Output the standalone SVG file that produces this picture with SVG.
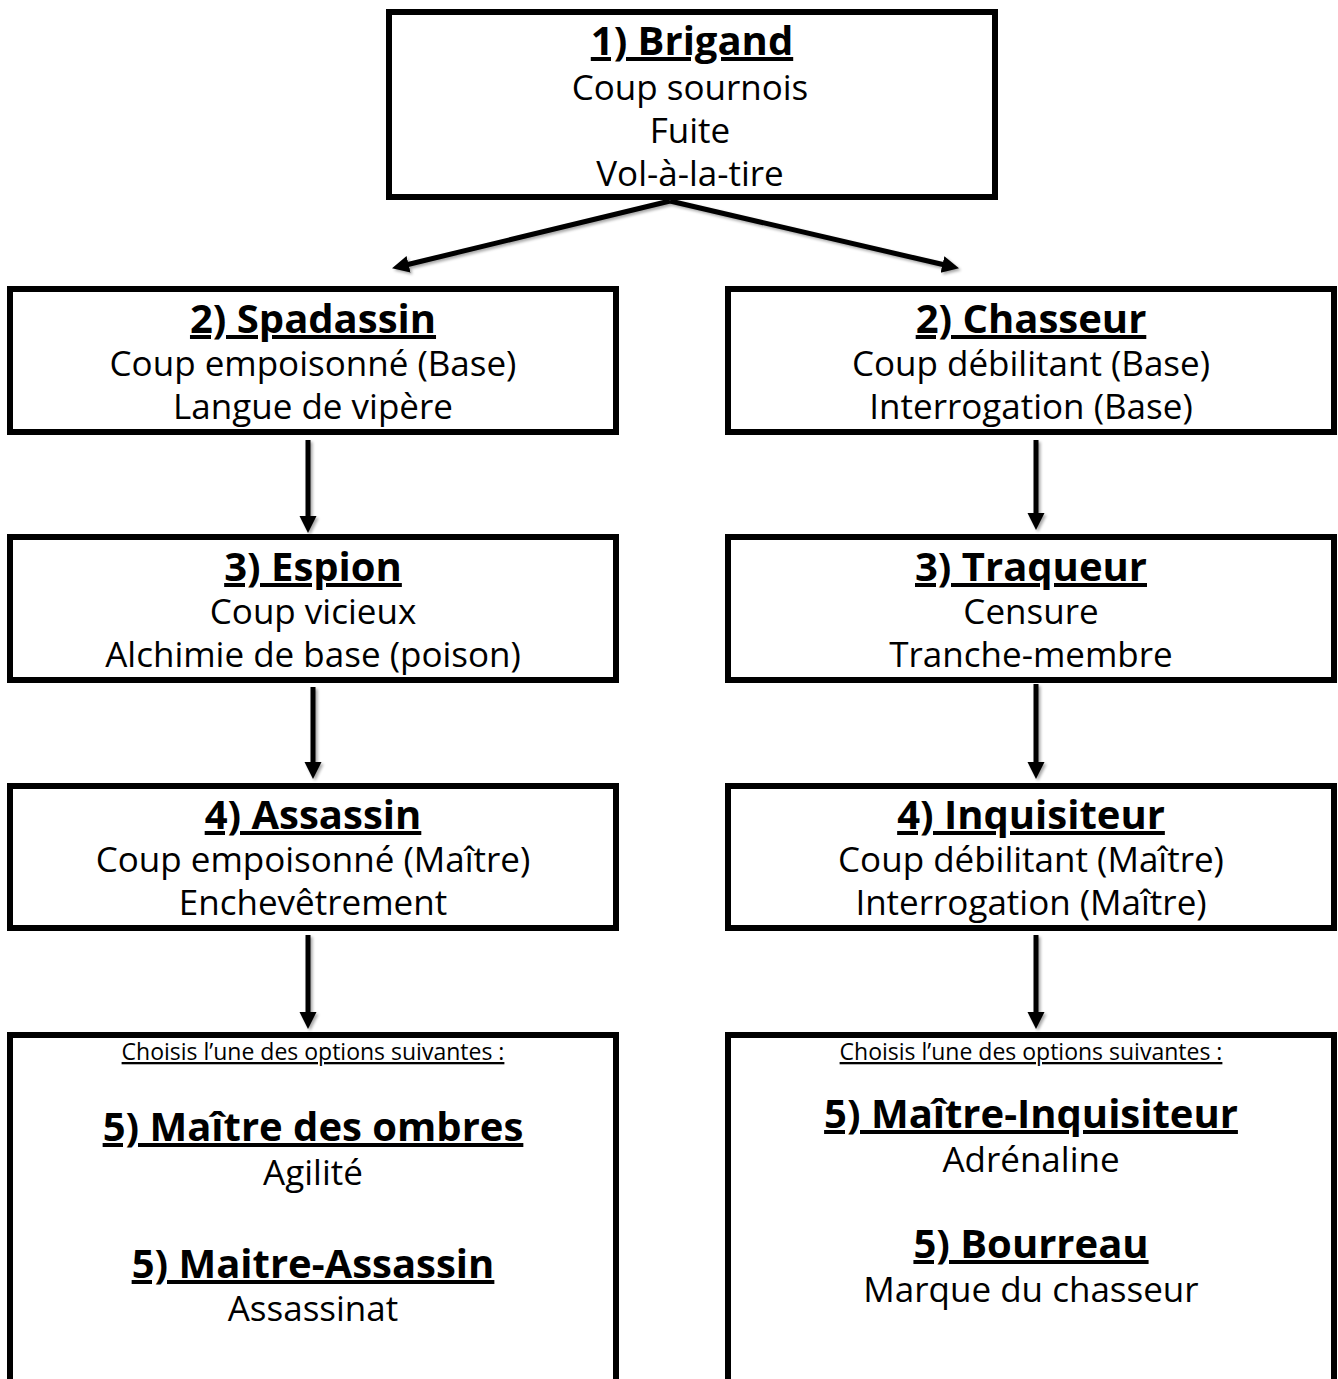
<svg xmlns="http://www.w3.org/2000/svg" width="1338" height="1379" viewBox="0 0 1338 1379">
  <style>
    .box { fill: #ffffff; stroke: #000000; stroke-width: 6; }
    text { font-family: "Open Sans", "Noto Sans", "DejaVu Sans", sans-serif; fill: #000000; text-anchor: middle; }
    .title { font-size: 40px; font-weight: 700; text-decoration: underline; text-decoration-skip-ink: none; }
    .line { font-size: 35px; font-weight: 400; }
    .note { font-size: 23px; font-weight: 400; text-decoration: underline; text-decoration-skip-ink: none; }
    .conn { stroke: #000000; stroke-width: 5; fill: none; marker-end: url(#head); }
  </style>
  <defs>
    <marker id="head" markerUnits="userSpaceOnUse" markerWidth="18" markerHeight="18" refX="6" refY="8.5" orient="auto">
      <path d="M0,0 L17,8.5 L0,17 Z" fill="#000000"/>
    </marker>
    <filter id="shadow" x="-20%" y="-20%" width="140%" height="140%">
      <feGaussianBlur in="SourceAlpha" stdDeviation="1.6"/>
      <feOffset dx="2" dy="2" result="off"/>
      <feComponentTransfer><feFuncA type="linear" slope="0.35"/></feComponentTransfer>
      <feMerge><feMergeNode/><feMergeNode in="SourceGraphic"/></feMerge>
    </filter>
  </defs>

  <rect width="1338" height="1379" fill="#ffffff"/>

  <!-- connectors -->
  <g id="connectors" filter="url(#shadow)">
    <path class="conn" d="M670,201 L402.7,265.7"/>
    <path class="conn" d="M670,201 L948.3,265.8"/>
    <path class="conn" d="M308,440 L308,522"/>
    <path class="conn" d="M1036,440 L1036,519"/>
    <path class="conn" d="M313,687 L313,768"/>
    <path class="conn" d="M1036,684 L1036,768"/>
    <path class="conn" d="M308,935 L308,1018"/>
    <path class="conn" d="M1036,935 L1036,1018"/>
  </g>

  <!-- level 1 -->
  <g id="brigand">
    <rect class="box" x="389" y="12" width="606" height="185"/>
    <text class="title" x="692" y="55">1) Brigand</text>
    <text class="line" x="690" y="100">Coup sournois</text>
    <text class="line" x="690" y="143">Fuite</text>
    <text class="line" x="690" y="186">Vol-à-la-tire</text>
  </g>

  <!-- level 2 -->
  <g id="spadassin">
    <rect class="box" x="10" y="289" width="606" height="143"/>
    <text class="title" x="313" y="333">2) Spadassin</text>
    <text class="line" x="313" y="376">Coup empoisonné (Base)</text>
    <text class="line" x="313" y="419">Langue de vipère</text>
  </g>
  <g id="chasseur">
    <rect class="box" x="728" y="289" width="606" height="143"/>
    <text class="title" x="1031" y="333">2) Chasseur</text>
    <text class="line" x="1031" y="376">Coup débilitant (Base)</text>
    <text class="line" x="1031" y="419">Interrogation (Base)</text>
  </g>

  <!-- level 3 -->
  <g id="espion">
    <rect class="box" x="10" y="537" width="606" height="143"/>
    <text class="title" x="313" y="581">3) Espion</text>
    <text class="line" x="313" y="624">Coup vicieux</text>
    <text class="line" x="313" y="667">Alchimie de base (poison)</text>
  </g>
  <g id="traqueur">
    <rect class="box" x="728" y="537" width="606" height="143"/>
    <text class="title" x="1031" y="581">3) Traqueur</text>
    <text class="line" x="1031" y="624">Censure</text>
    <text class="line" x="1031" y="667">Tranche-membre</text>
  </g>

  <!-- level 4 -->
  <g id="assassin">
    <rect class="box" x="10" y="786" width="606" height="142"/>
    <text class="title" x="313" y="829">4) Assassin</text>
    <text class="line" x="313" y="872">Coup empoisonné (Maître)</text>
    <text class="line" x="313" y="915">Enchevêtrement</text>
  </g>
  <g id="inquisiteur">
    <rect class="box" x="728" y="786" width="606" height="142"/>
    <text class="title" x="1031" y="829">4) Inquisiteur</text>
    <text class="line" x="1031" y="872">Coup débilitant (Maître)</text>
    <text class="line" x="1031" y="915">Interrogation (Maître)</text>
  </g>

  <!-- level 5 choices -->
  <g id="choix-assassin">
    <rect class="box" x="10" y="1035" width="606" height="380"/>
    <text class="note" x="313" y="1060">Choisis l’une des options suivantes :</text>
    <text class="title" x="313" y="1141">5) Maître des ombres</text>
    <text class="line" x="313" y="1185">Agilité</text>
    <text class="title" x="313" y="1278">5) Maitre-Assassin</text>
    <text class="line" x="313" y="1321">Assassinat</text>
  </g>
  <g id="choix-inquisiteur">
    <rect class="box" x="728" y="1035" width="606" height="380"/>
    <text class="note" x="1031" y="1060">Choisis l’une des options suivantes :</text>
    <text class="title" x="1031" y="1128">5) Maître-Inquisiteur</text>
    <text class="line" x="1031" y="1172">Adrénaline</text>
    <text class="title" x="1031" y="1258">5) Bourreau</text>
    <text class="line" x="1031" y="1302">Marque du chasseur</text>
  </g>
</svg>
